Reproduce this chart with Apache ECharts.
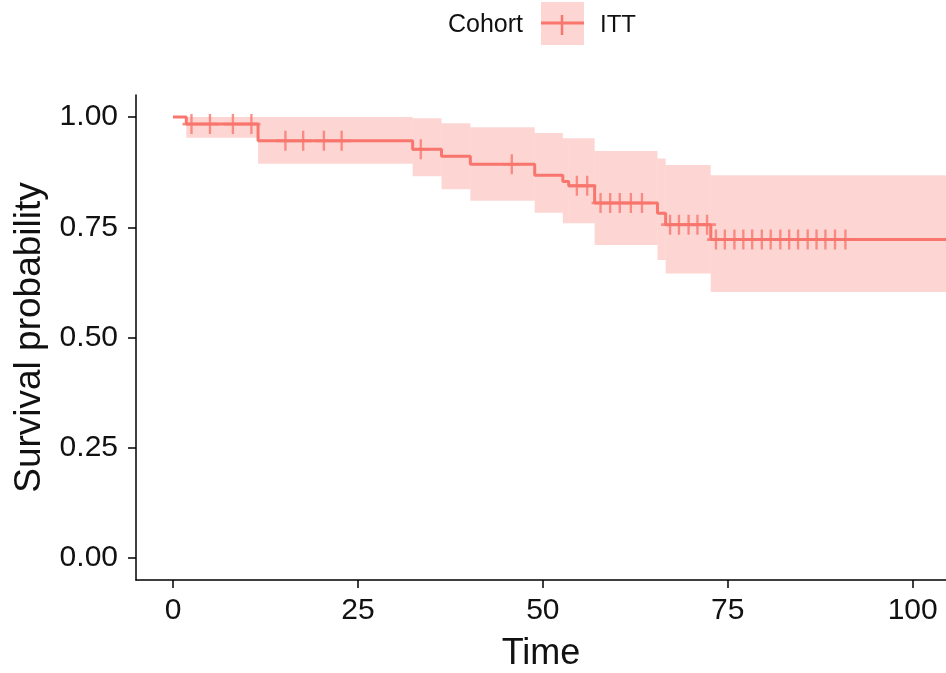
<!DOCTYPE html>
<html>
<head>
<meta charset="utf-8">
<script src="https://cdn.jsdelivr.net/npm/echarts@6/dist/echarts.min.js"></script>
<style>
html,body{margin:0;padding:0;background:#fff;}
#chart{width:946px;height:673px;}
</style>
</head>
<body>
<div id="chart"></div>
<script>
// Kaplan-Meier step curve (time at which each level starts, survival level)
var eventTimes = [0, 1.8, 11.5, 32.4, 36.3, 40.2, 48.9, 52.7, 53.5, 57.0, 65.5, 66.6, 72.7];
var survival   = [1.000, 0.984, 0.946, 0.927, 0.911, 0.893, 0.868, 0.854, 0.844, 0.805, 0.782, 0.756, 0.722];
var lastTime = 104.5;

// Confidence band per interval (starts at eventTimes)
var bandLower = [1.000, 0.953, 0.894, 0.866, 0.836, 0.810, 0.783, 0.759, 0.759, 0.710, 0.676, 0.645, 0.603];
var bandUpper = [1.000, 1.000, 1.000, 0.997, 0.986, 0.977, 0.964, 0.952, 0.952, 0.923, 0.906, 0.891, 0.868];

// Censoring marks
var censorTimes = [2.5, 5.0, 8.1, 10.6, 15.2, 17.6, 20.4, 22.8, 33.5, 45.8, 54.6, 56.0,
  57.8, 59.1, 60.4, 61.9, 63.4, 67.2, 68.4, 69.7, 70.9, 72.2,
  73.4, 74.6, 75.9, 77.1, 78.3, 79.6, 80.8, 82.1, 83.3, 84.5, 85.8, 87.0, 88.2, 89.5, 90.9];
var censorSurv = [0.984, 0.984, 0.984, 0.984, 0.946, 0.946, 0.946, 0.946, 0.927, 0.893, 0.844, 0.844,
  0.805, 0.805, 0.805, 0.805, 0.805, 0.756, 0.756, 0.756, 0.756, 0.756,
  0.722, 0.722, 0.722, 0.722, 0.722, 0.722, 0.722, 0.722, 0.722, 0.722, 0.722, 0.722, 0.722, 0.722, 0.722];

var xTicks = [0, 25, 50, 75, 100];
var yTicks = [0, 0.25, 0.5, 0.75, 1.0];

var COLOR = '#F8766D';
var FILL = 'rgba(248,118,109,0.3)';
var FONT = "'Liberation Sans', Arial, sans-serif";

var lineData = eventTimes.map(function (t, i) { return [t, survival[i]]; });
lineData.push([lastTime, survival[survival.length - 1]]);

var bandData = eventTimes.map(function (t, i) {
  var tEnd = i + 1 < eventTimes.length ? eventTimes[i + 1] : lastTime;
  return [t, tEnd, bandLower[i], bandUpper[i]];
});

var censorData = censorTimes.map(function (t, i) { return [t, censorSurv[i]]; });

var plusPath = 'path://M-1.3,-10L1.3,-10L1.3,-1.3L10,-1.3L10,1.3L1.3,1.3L1.3,10L-1.3,10L-1.3,1.3L-10,1.3L-10,-1.3L-1.3,-1.3Z';

var chart = echarts.init(document.getElementById('chart'), null, {renderer: 'canvas'});
chart.setOption({
  animation: false,
  backgroundColor: '#ffffff',
  textStyle: {fontFamily: FONT},
  grid: {left: 136, right: 0, top: 95, bottom: 93, containLabel: false, outerBoundsMode: 'none'},
  xAxis: {
    type: 'value', min: -5, max: lastTime,
    name: 'Time', nameLocation: 'middle', nameGap: 56,
    nameTextStyle: {fontSize: 36, color: '#111', fontFamily: FONT},
    axisLine: {show: true, onZero: false, lineStyle: {color: '#000', width: 1.5}},
    axisTick: {show: true, length: 8, customValues: xTicks, lineStyle: {color: '#000', width: 1.5}},
    axisLabel: {customValues: xTicks, fontSize: 30, color: '#111', margin: 16, fontFamily: FONT},
    splitLine: {show: false}
  },
  yAxis: {
    type: 'value', min: -0.05, max: 1.05,
    name: 'Survival probability', nameLocation: 'middle', nameGap: 88, nameRotate: 90,
    nameTextStyle: {fontSize: 37, color: '#111', fontFamily: FONT},
    axisLine: {show: true, onZero: false, lineStyle: {color: '#000', width: 1.5}},
    axisTick: {show: true, length: 8, customValues: yTicks, lineStyle: {color: '#000', width: 1.5}},
    axisLabel: {customValues: yTicks, fontSize: 30, color: '#111', margin: 18, fontFamily: FONT,
      formatter: function (v) { return v.toFixed(2); }},
    splitLine: {show: false}
  },
  series: [
    {
      type: 'custom', name: 'band', z: 1,
      data: bandData,
      encode: {x: [0, 1], y: [2, 3]},
      renderItem: function (params, api) {
        var p1 = api.coord([api.value(0), api.value(3)]);
        var p2 = api.coord([api.value(1), api.value(2)]);
        var shape = echarts.graphic.clipRectByRect(
          {x: p1[0], y: p1[1], width: p2[0] - p1[0], height: p2[1] - p1[1]},
          {x: params.coordSys.x, y: params.coordSys.y, width: params.coordSys.width, height: params.coordSys.height});
        return shape && {type: 'rect', shape: shape, style: {fill: FILL}};
      }
    },
    {
      type: 'line', name: 'ITT', z: 3, step: 'end',
      data: lineData, showSymbol: false, symbol: 'none',
      lineStyle: {color: COLOR, width: 3}
    },
    {
      type: 'scatter', name: 'censor', z: 4,
      data: censorData, symbol: plusPath, symbolSize: [18, 20],
      itemStyle: {color: COLOR}
    }
  ],
  graphic: [
    {type: 'text', left: 448, top: 13, style: {text: 'Cohort', fontSize: 25, fill: '#111', fontFamily: FONT}},
    {type: 'rect', shape: {x: 541, y: 2, width: 43, height: 43}, style: {fill: FILL}},
    {type: 'line', shape: {x1: 541, y1: 23, x2: 584, y2: 23}, style: {stroke: COLOR, lineWidth: 3}},
    {type: 'line', shape: {x1: 562, y1: 15, x2: 562, y2: 35}, style: {stroke: COLOR, lineWidth: 2.5}},
    {type: 'text', left: 600, top: 13, style: {text: 'ITT', fontSize: 24, fill: '#111', fontFamily: FONT}}
  ]
});
</script>
</body>
</html>
